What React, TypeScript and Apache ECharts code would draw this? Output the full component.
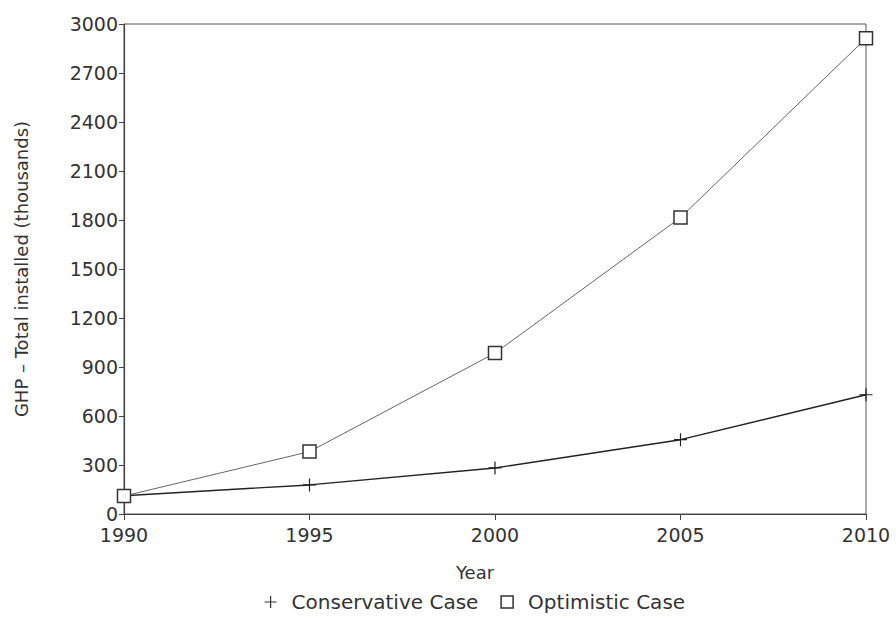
import React, { useEffect, useRef } from "react";
import * as echarts from "echarts";

const years = [1990, 1995, 2000, 2005, 2010];
const conservative = [112, 178, 282, 455, 730];
const optimistic = [110, 382, 985, 1815, 2912];
const yTicks = { min: 0, max: 3000, interval: 300 };
const xTicks = { min: 1990, max: 2010, interval: 5 };

const FONT = "DejaVu Sans";
const PLUS = "path://M0,6H12M6,0V12";

export default function App() {
  const ref = useRef<HTMLDivElement>(null);
  useEffect(() => {
    if (!ref.current) return;
    const chart = echarts.init(ref.current, undefined, { renderer: "svg" });
    chart.setOption({
      animation: false,
      backgroundColor: "#fff",
      textStyle: { fontFamily: FONT, color: "#333" },
      grid: {
        left: 124,
        right: 30,
        top: 24,
        bottom: 104,
        show: true,
        borderColor: "#555",
        borderWidth: 1,
      },
      legend: {
        bottom: 1,
        left: 259,
        itemWidth: 12,
        itemHeight: 12,
        itemGap: 22,
        textStyle: { fontFamily: FONT, fontSize: 20, color: "#333", padding: [0, 0, 0, 10] },
        data: [
          {
            name: "Conservative Case",
            icon: PLUS,
            itemStyle: { color: "transparent", borderColor: "#333", borderWidth: 1.2 },
          },
          {
            name: "Optimistic Case",
            icon: "rect",
            itemStyle: { color: "#fff", borderColor: "#333", borderWidth: 1.5 },
          },
        ],
      },
      xAxis: {
        type: "value",
        min: xTicks.min,
        max: xTicks.max,
        interval: xTicks.interval,
        name: "Year",
        nameLocation: "middle",
        nameGap: 49,
        nameTextStyle: { fontFamily: FONT, fontSize: 18, color: "#333", padding: [0, 40, 0, 0] },
        splitLine: { show: false },
        axisLine: { lineStyle: { color: "#444", width: 1.2 } },
        axisTick: { length: 6, lineStyle: { color: "#444" } },
        axisLabel: {
          fontFamily: FONT,
          fontSize: 19,
          color: "#333",
          margin: 11,
          formatter: (v: number) => String(v),
        },
      },
      yAxis: {
        type: "value",
        min: yTicks.min,
        max: yTicks.max,
        interval: yTicks.interval,
        name: "GHP \u2013 Total installed (thousands)",
        nameLocation: "middle",
        nameGap: 94,
        nameTextStyle: { fontFamily: FONT, fontSize: 18, color: "#333" },
        splitLine: { show: false },
        axisLine: { show: true, lineStyle: { color: "#444", width: 1.2 } },
        axisTick: { show: true, length: 5, lineStyle: { color: "#444" } },
        axisLabel: {
          fontFamily: FONT,
          fontSize: 19,
          color: "#333",
          margin: 6,
          formatter: (v: number) => String(v),
        },
      },
      series: [
        {
          name: "Conservative Case",
          type: "line",
          data: years.map((y, i) => [y, conservative[i]]),
          symbol: PLUS,
          symbolSize: 13,
          lineStyle: { color: "#222", width: 1.4 },
          itemStyle: { color: "transparent", borderColor: "#222", borderWidth: 1.2 },
          z: 3,
        },
        {
          name: "Optimistic Case",
          type: "line",
          data: years.map((y, i) => [y, optimistic[i]]),
          symbol: "rect",
          symbolSize: 13,
          lineStyle: { color: "#666", width: 1 },
          itemStyle: { color: "#fff", borderColor: "#333", borderWidth: 1.5 },
          z: 4,
        },
      ],
    });
    return () => chart.dispose();
  }, []);
  return (
    <div
      ref={ref}
      style={{ position: "fixed", left: 0, top: 0, width: 896, height: 618 }}
    />
  );
}
